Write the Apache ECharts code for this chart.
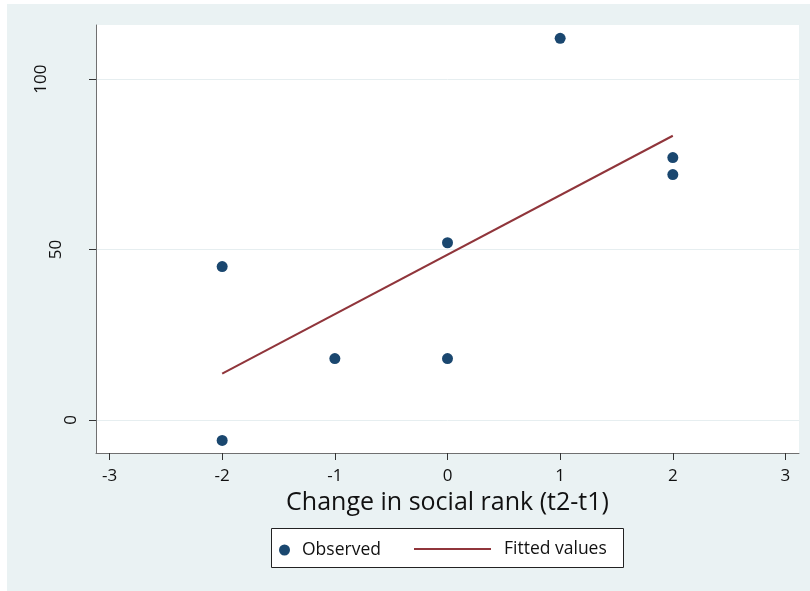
<!DOCTYPE html>
<html>
<head>
<meta charset="utf-8">
<script src="https://cdn.jsdelivr.net/npm/echarts@6/dist/echarts.min.js"></script>
<style>html,body{margin:0;padding:0;background:#fff}#c{width:810px;height:591px}</style>
</head>
<body>
<div id="c"></div>
<script>
// Observed data
var obsX = [-2, -2, -1, 0, 0, 1, 2, 2];
var obsY = [45, -6, 18, 18, 52, 112, 77, 72];
// Fitted line endpoints
var fitX = [-2, 2];
var fitY = [13.6, 83.4];
// Tick values
var xTicks = [-3, -2, -1, 0, 1, 2, 3];
var yTicks = [0, 50, 100];

var FONT = 'Open Sans';
var chart = echarts.init(document.getElementById('c'), null, {renderer: 'canvas'});

var obsData = obsX.map(function (x, i) { return [x, obsY[i]]; });
var fitData = fitX.map(function (x, i) { return [x, fitY[i]]; });

chart.setOption({
  animation: false,
  backgroundColor: '#fff',
  graphic: [
    {type: 'rect', left: 7, top: 4, shape: {width: 803, height: 587}, style: {fill: '#EAF2F3'}, z: -10, silent: true},
    {type: 'rect', left: 271, top: 528, shape: {width: 352, height: 39}, style: {fill: '#fff', stroke: '#222', lineWidth: 1}, z: 0, silent: true}
  ],
  grid: {left: 96, top: 25, right: 11, bottom: 138, show: true, backgroundColor: '#fff', borderWidth: 0},
  xAxis: {
    type: 'value', min: -3.12, max: 3.12,
    name: 'Change in social rank (t2-t1)', nameLocation: 'middle', nameGap: 30,
    nameTextStyle: {fontFamily: FONT, fontSize: 25, color: '#111'},
    axisLine: {show: true, onZero: false, lineStyle: {color: '#707070', width: 1}},
    axisTick: {show: true, length: 7, customValues: xTicks, lineStyle: {color: '#333'}},
    axisLabel: {customValues: xTicks, margin: 15, fontFamily: FONT, fontSize: 17, color: '#111'},
    splitLine: {show: false}
  },
  yAxis: {
    type: 'value', min: -9.7, max: 115.9,
    axisLine: {show: true, onZero: false, lineStyle: {color: '#707070', width: 1}},
    axisTick: {show: true, length: 7, customValues: yTicks, lineStyle: {color: '#333'}},
    axisLabel: {
      customValues: yTicks, rotate: 90, margin: 16, fontFamily: FONT, fontSize: 17, color: '#111',
      formatter: function (v) {
        var s = String(v);
        return '{p' + (s.length - 1) + '|' + s + '}';
      },
      rich: {
        p0: {fontFamily: FONT, fontSize: 17, color: '#111', padding: [0, 0, 0, 0]},
        p1: {fontFamily: FONT, fontSize: 17, color: '#111', padding: [0, 0, 15, 0]},
        p2: {fontFamily: FONT, fontSize: 17, color: '#111', padding: [0, 0, 30, 0]}
      }
    },
    splitLine: {show: true, lineStyle: {color: '#E6EEF0', width: 1}}
  },
  legend: [
    {
      data: [{name: 'Observed', icon: 'circle'}],
      left: 274, top: 536, itemWidth: 11, itemHeight: 11,
      textStyle: {fontFamily: FONT, fontSize: 17.5, color: '#111', padding: [0, 0, 0, 7]}
    },
    {
      data: [{name: 'Fitted values', icon: 'rect'}],
      left: 409, top: 535, itemWidth: 77, itemHeight: 2,
      textStyle: {fontFamily: FONT, fontSize: 17.5, color: '#111', padding: [0, 0, 0, 8]}
    }
  ],
  series: [
    {
      name: 'Observed', type: 'scatter', data: obsData, symbol: 'circle', symbolSize: 11,
      itemStyle: {color: '#1A476F', opacity: 1}, z: 3
    },
    {
      name: 'Fitted values', type: 'line', data: fitData, symbol: 'none', showSymbol: false,
      lineStyle: {color: '#90353B', width: 2}, itemStyle: {color: '#90353B'}, z: 2
    }
  ]
});
</script>
</body>
</html>
